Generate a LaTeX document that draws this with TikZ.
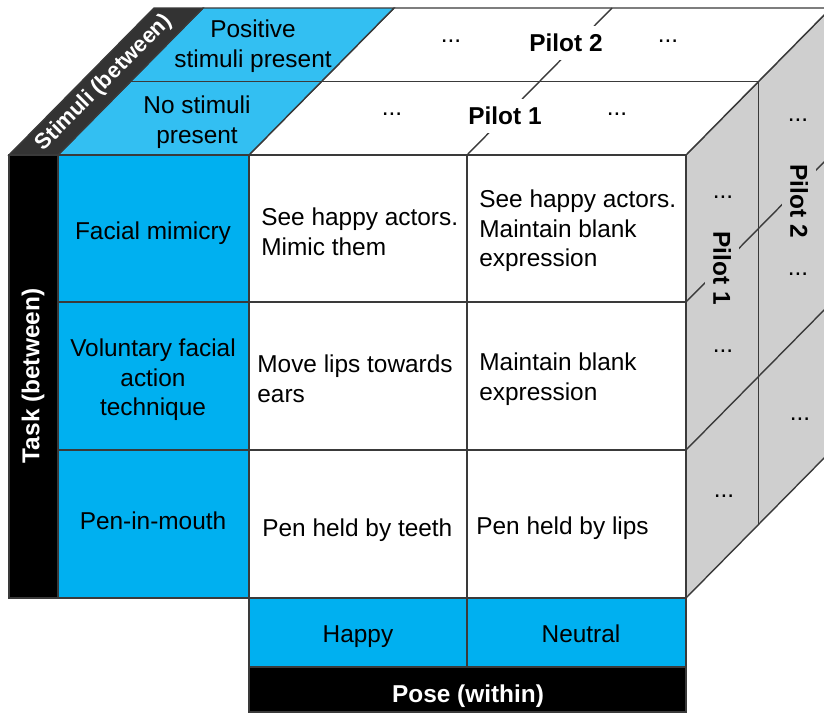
\documentclass[tikz,border=0pt]{standalone}
\usepackage{fontspec}
\setmainfont{Liberation Sans}

\definecolor{frontblue}{HTML}{00B0F0}
\definecolor{topblue}{HTML}{33BFF2}
\definecolor{sidegray}{HTML}{CFCFCF}
\definecolor{bardark}{HTML}{333333}
\definecolor{edgegray}{HTML}{3A3A3A}

\begin{document}
\begin{tikzpicture}[
    x=0.5pt, y=-0.5pt,
    face/.style={draw=edgegray, line width=0.7pt},
    txt/.style={font=\fontsize{12.2}{14.75}\selectfont, inner sep=0pt},
    celltext/.style={txt, anchor=west, align=left},
    headtext/.style={txt, align=center},
    axistext/.style={font=\bfseries\fontsize{12.2}{14.75}\selectfont, text=white, inner sep=0pt},
    pilot/.style={font=\bfseries\fontsize{12.2}{14.75}\selectfont, inner sep=4pt},
    dotmark/.style={txt}
]
    \clip (0,0) rectangle (824,712);
    \fill[white] (0,0) rectangle (824,712);

    % Cube corners
    \coordinate (ftl) at (249,155);
    \coordinate (ftr) at (686,155);
    \coordinate (fbr) at (686,598);
    \coordinate (btl) at (394,8);
    \coordinate (btr) at (831,8);
    \coordinate (bbr) at (831,451);

    % Side and top faces
    \filldraw[face, fill=sidegray] (ftr) -- (btr) -- (bbr) -- (fbr) -- cycle;
    \filldraw[face, fill=white] (ftl) -- (btl) -- (btr) -- (ftr) -- cycle;
    \filldraw[face, fill=topblue] (58,155) -- (203,8) -- (btl) -- (ftl) -- cycle;
    \filldraw[face, fill=bardark] (9,155) -- (154,8) -- (203,8) -- (58,155) -- cycle;

    % Depth layers
    \draw[face] (130.5,81.5) -- (758.5,81.5) -- (758.5,524.5);
    \draw[face] (467,155) -- ++(145,-147);
    \draw[face] (686,302) -- ++(145,-147);
    \draw[face] (686,450) -- ++(145,-147);

    % Front face
    \filldraw[face, fill=black] (9,155) rectangle (58,598);
    \filldraw[face, fill=frontblue] (58,155) rectangle (249,598);
    \filldraw[face, fill=white] (ftl) rectangle (fbr);
    \filldraw[face, fill=frontblue] (249,598) rectangle (686,667);
    \filldraw[face, fill=black] (249,667) rectangle (686,712);
    \draw[face] (467,155) -- (467,667);
    \draw[face] (58,302) -- (686,302);
    \draw[face] (58,450) -- (686,450);

    % Axis labels
    \node [axistext, rotate=90] (task) at (33,376) {Task (between)};
    \node [axistext, anchor=base] (pose) at (468,702) {Pose (within)};
    \node [axistext, rotate=45, font=\bfseries\fontsize{11}{13}\selectfont] (stimuli) at (104,83) {Stimuli (between)};

    % Levels
    \node [headtext] (positive) at (253,46) {Positive\\stimuli present};
    \node [headtext] (nostim) at (197,122) {No stimuli\\present};
    \node [headtext] (mimicry) at (153,233) {Facial mimicry};
    \node [headtext] (voluntary) at (153,380) {Voluntary facial\\action\\technique};
    \node [headtext] (penmouth) at (153,521) {Pen-in-mouth};
    \node [headtext, anchor=base] (happy) at (358,642) {Happy};
    \node [headtext, anchor=base] (neutral) at (581,642) {Neutral};

    % Cells
    \node [celltext] (mimhappy) at (261,232) {See happy actors.\\Mimic them};
    \node [celltext] (mimneutral) at (479,231) {See happy actors.\\Maintain blank\\expression};
    \node [celltext] (volhappy) at (257,379) {Move lips towards\\ears};
    \node [celltext] (volneutral) at (479,379) {Maintain blank\\expression};
    \node [celltext] (penhappy) at (262,530) {Pen held by teeth};
    \node [celltext] (penneutral) at (476,528) {Pen held by lips};

    % Pilots
    \node [pilot, fill=white] (pilotAtop) at (505,116) {Pilot 1};
    \node [pilot, fill=white] (pilotBtop) at (566,43) {Pilot 2};
    \node [pilot, fill=sidegray, rotate=-90] (pilotAside) at (722,268) {Pilot 1};
    \node [pilot, fill=sidegray, rotate=-90] (pilotBside) at (799,201) {Pilot 2};

    % Dots
    \node [dotmark] (dotA) at (392,114) {...};
    \node [dotmark] (dotB) at (617,114) {...};
    \node [dotmark] (dotC) at (451,41) {...};
    \node [dotmark] (dotD) at (668,41) {...};
    \node [dotmark] (dotE) at (723,197) {...};
    \node [dotmark] (dotF) at (723,351) {...};
    \node [dotmark] (dotG) at (724,496) {...};
    \node [dotmark] (dotH) at (798,120) {...};
    \node [dotmark] (dotI) at (798,274) {...};
    \node [dotmark] (dotJ) at (800,419) {...};
\end{tikzpicture}
\end{document}
